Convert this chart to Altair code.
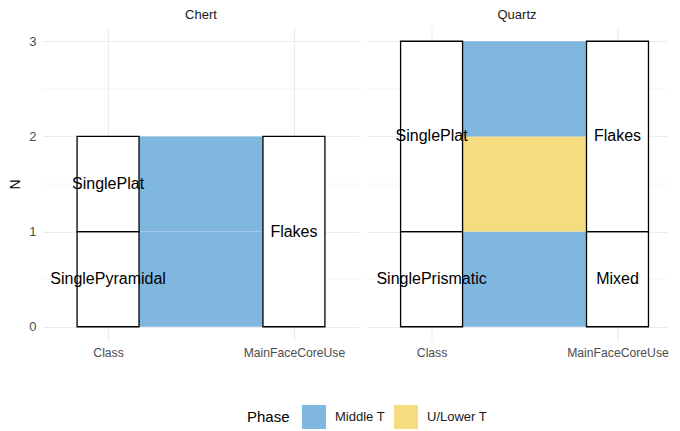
import altair as alt
import pandas as pd

# ---- data ----
panels = ["Chert", "Quartz"]
axes_names = ["Class", "MainFaceCoreUse"]

# strata, listed bottom to top within each panel / axis
strat_facet = ["Chert", "Chert", "Chert", "Quartz", "Quartz", "Quartz", "Quartz"]
strat_axis = ["Class", "Class", "MainFaceCoreUse", "Class", "Class", "MainFaceCoreUse", "MainFaceCoreUse"]
strat_label = ["SinglePyramidal", "SinglePlat", "Flakes", "SinglePrismatic", "SinglePlat", "Mixed", "Flakes"]
strat_n = [1, 1, 2, 1, 2, 1, 2]

# alluvia (flows), listed bottom to top within each panel
flow_facet = ["Chert", "Chert", "Quartz", "Quartz", "Quartz"]
flow_phase = ["Middle T", "Middle T", "Middle T", "U/Lower T", "Middle T"]
flow_n = [1, 1, 1, 1, 1]

phases = ["Middle T", "U/Lower T"]
phase_colors = ["#80b7de", "#f5dc7e"]

y_ticks = [0, 1, 2, 3]
y_minor = [0.5, 1.5, 2.5]

# ---- derived tables ----
HALF = 1 / 6  # half stratum width (ggalluvial width = 1/3)

strata = pd.DataFrame({"facet": strat_facet, "axis": strat_axis,
                       "label": strat_label, "n": strat_n})
strata["pos"] = strata["axis"].map({a: i + 1 for i, a in enumerate(axes_names)})
strata["hi"] = strata.groupby(["facet", "axis"])["n"].cumsum()
strata["lo"] = strata["hi"] - strata["n"]
strata["mid"] = (strata["lo"] + strata["hi"]) / 2
strata["x1"] = strata["pos"] - HALF
strata["x2"] = strata["pos"] + HALF

flows = pd.DataFrame({"facet": flow_facet, "phase": flow_phase, "n": flow_n})
flows["hi"] = flows.groupby("facet")["n"].cumsum()
flows["lo"] = flows["hi"] - flows["n"]
flows["x1"] = 1 + HALF
flows["x2"] = len(axes_names) - HALF

minor = pd.DataFrame({"y": y_minor})

label_expr = "[" + ",".join("'" + a + "'" for a in axes_names) + "][datum.value - 1]"

GRID = "#ebebeb"

legend = alt.Legend(
    orient="none", legendX=204, legendY=378, direction="horizontal",
    title="Phase", titleOrient="left", titleFontSize=15, titleFontWeight="normal",
    titleColor="#000000", titlePadding=12, titleBaseline="middle",
    labelFontSize=13, labelColor="#1a1a1a", labelOffset=9,
    symbolType="square", symbolSize=576, symbolStrokeWidth=0, symbolOpacity=1,
    columnPadding=9,
)


def panel(name, width, xmax, left):
    xs = alt.Scale(domain=[0.65, xmax], nice=False, zero=False)
    ys = alt.Scale(domain=[-0.15, 3.15], nice=False, zero=False)
    xaxis = alt.Axis(values=[1, 2], labelExpr=label_expr, grid=True, gridColor=GRID,
                     gridWidth=1.1, ticks=False, domain=False, labelFontSize=12.2,
                     labelColor="#4d4d4d", labelPadding=5, title=None,
                     labelOverlap=False)
    if left:
        yaxis = alt.Axis(values=y_ticks, format="d", grid=True, gridColor=GRID,
                         gridWidth=1.1, ticks=False, domain=False, labelFontSize=13,
                         labelColor="#4d4d4d", labelPadding=7, title="N",
                         titleFontSize=14, titleFontWeight="normal", titleColor="#000000",
                         titlePadding=6)
    else:
        yaxis = alt.Axis(values=y_ticks, grid=True, gridColor=GRID, gridWidth=1.1,
                         ticks=False, domain=False, labels=False, title=None)

    s = strata[strata["facet"] == name]
    f = flows[flows["facet"] == name]

    grid_minor = alt.Chart(minor).mark_rule(color=GRID, strokeWidth=0.55).encode(
        y=alt.Y("y:Q", scale=ys, axis=yaxis)
    )
    flow_layer = alt.Chart(f).mark_rect(opacity=1).encode(
        x=alt.X("x1:Q", scale=xs, axis=xaxis),
        x2="x2:Q",
        y=alt.Y("lo:Q", scale=ys, axis=yaxis),
        y2="hi:Q",
        color=alt.Color("phase:N", scale=alt.Scale(domain=phases, range=phase_colors),
                        legend=legend),
    )
    strat_layer = alt.Chart(s).mark_rect(fill="white", stroke="black",
                                         strokeWidth=1.3).encode(
        x=alt.X("x1:Q", scale=xs, axis=xaxis),
        x2="x2:Q",
        y=alt.Y("lo:Q", scale=ys, axis=yaxis),
        y2="hi:Q",
    )
    text_layer = alt.Chart(s).mark_text(fontSize=16, color="black").encode(
        x=alt.X("pos:Q", scale=xs, axis=xaxis),
        y=alt.Y("mid:Q", scale=ys, axis=yaxis),
        text="label:N",
    )
    return alt.layer(grid_minor, flow_layer, strat_layer, text_layer).properties(
        width=width, height=314,
        title=alt.TitleParams(name, fontSize=13, fontWeight="normal", color="#1a1a1a",
                              anchor="middle", offset=5.5),
    )


chart = alt.hconcat(
    panel("Chert", 316, 2.35, True),
    panel("Quartz", 301, 2.269, False),
    spacing=5.5,
).properties(
    padding={"left": 0, "top": 0, "right": 0, "bottom": 0}
).configure(font="Liberation Sans").configure_view(stroke=None)

chart.save("out.html", embed_options={"renderer": "svg", "actions": False})
